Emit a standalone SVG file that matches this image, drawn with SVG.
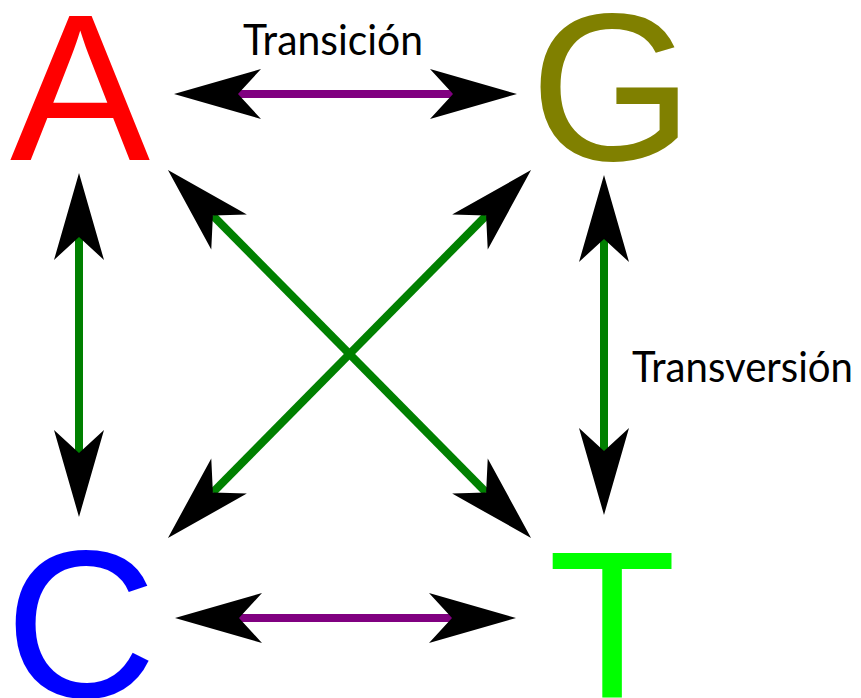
<svg xmlns="http://www.w3.org/2000/svg" width="861" height="698" viewBox="0 0 861 698">
<style>
.base{font-family:"Liberation Sans",Arial,sans-serif;font-size:210px}
.lbl{font-family:Lato,"Liberation Sans",sans-serif;font-size:43px;fill:#000}
.ts{stroke:#800080;stroke-width:8;fill:none;marker-start:url(#ah);marker-end:url(#ah)}
.tv{stroke:#008000;stroke-width:8;fill:none;marker-start:url(#ah);marker-end:url(#ah)}
</style>
<defs>
<marker id="ah" markerUnits="userSpaceOnUse" refX="0" refY="0" markerWidth="200" markerHeight="200" orient="auto-start-reverse" overflow="visible">
<path d="M64,0 L-23,-25 L0,0 L-23,25 Z" fill="#000"/>
</marker>
</defs>
<rect width="861" height="698" fill="#fff"/>
<g id="connectors">
<line class="ts" x1="238" y1="94" x2="453" y2="94"/>
<line class="ts" x1="239" y1="618" x2="452" y2="618"/>
<line class="tv" x1="79" y1="237" x2="79" y2="453"/>
<line class="tv" x1="604" y1="239" x2="604" y2="451"/>
<line class="tv" x1="212.9" y1="215.6" x2="486.1" y2="492.4"/>
<line class="tv" x1="486.1" y1="215.6" x2="212.9" y2="492.4"/>
</g>
<g id="node-A"><text class="base" x="10" y="160" fill="#ff0000">A</text></g>
<g id="node-G"><text class="base" x="530" y="160" fill="#808000">G</text></g>
<g id="node-C"><text class="base" x="5" y="697" fill="#0000ff">C</text></g>
<g id="node-T"><text class="base" x="548" y="697" fill="#00ff00">T</text></g>
<g id="label-transicion"><text class="lbl" x="243" y="55" textLength="180" lengthAdjust="spacingAndGlyphs">Transición</text></g>
<g id="label-transversion"><text class="lbl" x="632" y="382" textLength="221" lengthAdjust="spacingAndGlyphs">Transversión</text></g>
</svg>
